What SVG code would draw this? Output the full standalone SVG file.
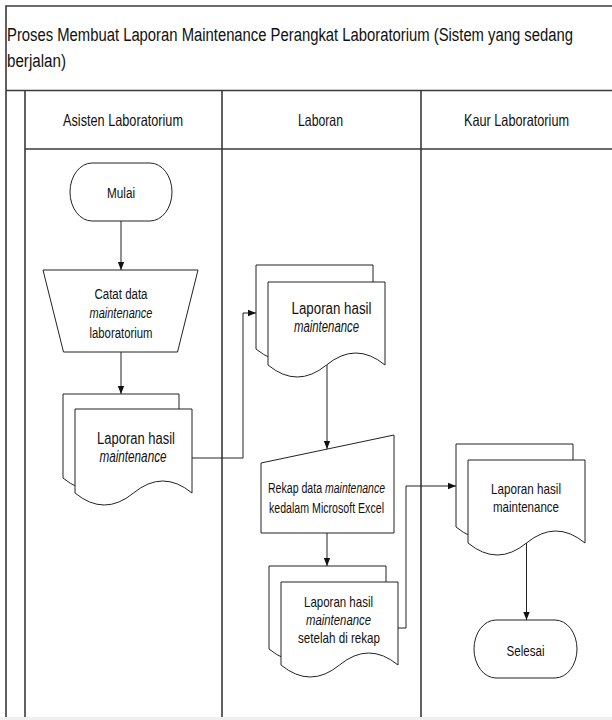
<svg xmlns="http://www.w3.org/2000/svg" width="612" height="720" viewBox="0 0 612 720">
<style>
.frame{fill:none;stroke:#3a3a3a;stroke-width:1.6}
.shape{fill:#fff;stroke:#222;stroke-width:1}
.conn{fill:none;stroke:#222;stroke-width:1}
text{font-family:"Liberation Sans Narrow","Arial Narrow","Liberation Sans",Arial,sans-serif;fill:#111}
.c{text-anchor:middle}
.i{font-style:italic}
</style>
<defs>
<marker id="arr" markerUnits="userSpaceOnUse" markerWidth="8" markerHeight="8" viewBox="0 0 8 8" refX="8" refY="4" orient="auto">
<path d="M0,0.8 L8,4 L0,7.2 Z" fill="#111"/>
</marker>
</defs>
<rect x="0" y="0" width="612" height="720" fill="#fff"/>
<rect x="0" y="717" width="612" height="3" fill="#f0f0f0"/>
<g id="pool">
<path class="frame" d="M6,717 V6 H616"/>
<path class="frame" d="M6,90.5 H616"/>
<path class="frame" d="M25,149 H616"/>
<path class="frame" d="M25,90.5 V717"/>
<path class="frame" d="M222,90.5 V717"/>
<path class="frame" d="M421,90.5 V717"/>
<text transform="translate(7,41) scale(0.78,1)" x="0" y="0" font-size="19" textLength="725.6" lengthAdjust="spacingAndGlyphs">Proses Membuat Laporan Maintenance Perangkat Laboratorium (Sistem yang sedang</text>
<text transform="translate(7,67) scale(0.8,1)" x="0" y="0" font-size="19" textLength="73.75" lengthAdjust="spacingAndGlyphs">berjalan)</text>
</g>
<g id="lane-asisten"><text class="c" x="123" y="125.5" font-size="16.5" textLength="120" lengthAdjust="spacingAndGlyphs">Asisten Laboratorium</text></g>
<g id="lane-laboran"><text class="c" x="320.5" y="125.5" font-size="16.5" textLength="45" lengthAdjust="spacingAndGlyphs">Laboran</text></g>
<g id="lane-kaur"><text class="c" x="516.5" y="125.5" font-size="16.5" textLength="105" lengthAdjust="spacingAndGlyphs">Kaur Laboratorium</text></g>

<g id="connectors">
<path class="conn" d="M121,221 V270" marker-end="url(#arr)"/>
<path class="conn" d="M121,352 V394" marker-end="url(#arr)"/>
<path class="conn" d="M192,458 H243 V313 H256" marker-end="url(#arr)"/>
<path class="conn" d="M327,365 V449" marker-end="url(#arr)"/>
<path class="conn" d="M327,533 V566" marker-end="url(#arr)"/>
<path class="conn" d="M398,628 H406 V486 H456" marker-end="url(#arr)"/>
<path class="conn" d="M526.5,543 V620" marker-end="url(#arr)"/>
</g>

<g id="mulai">
<rect class="shape" x="70" y="163" width="102" height="58" rx="22" ry="29"/>
<text class="c" x="121" y="197.5" font-size="15.5" textLength="28" lengthAdjust="spacingAndGlyphs">Mulai</text>
</g>
<g id="catat-data">
<polygon class="shape" points="43,270 198,270 177.5,352 63.5,352"/>
<text class="c" x="121" y="298.5" font-size="15.5" textLength="53" lengthAdjust="spacingAndGlyphs">Catat data</text>
<text class="c i" x="121" y="318" font-size="15.5" textLength="63" lengthAdjust="spacingAndGlyphs">maintenance</text>
<text class="c" x="121" y="337.5" font-size="15.5" textLength="63" lengthAdjust="spacingAndGlyphs">laboratorium</text>
</g>
<g id="laporan-asisten">
<path class="shape" d="M63,394 H179 V478 Q150,454 121,478 Q92,502 63,478 Z"/>
<path class="shape" d="M75,409 H192 V493 Q162.75,469 133.5,493 Q104.25,517 75,493 Z"/>
<text class="c" x="136" y="443.5" font-size="16" textLength="78" lengthAdjust="spacingAndGlyphs">Laporan hasil</text>
<text class="c i" x="133" y="461.5" font-size="16" textLength="67" lengthAdjust="spacingAndGlyphs">maintenance</text>
</g>
<g id="laporan-laboran">
<path class="shape" d="M256,265 H373 V349 Q343.75,325 314.5,349 Q285.25,373 256,349 Z"/>
<path class="shape" d="M268,282 H385 V365 Q355.75,341 326.5,365 Q297.25,389 268,365 Z"/>
<text class="c" x="331.5" y="313.5" font-size="16" textLength="80" lengthAdjust="spacingAndGlyphs">Laporan hasil</text>
<text class="c i" x="326.5" y="332" font-size="16" textLength="65" lengthAdjust="spacingAndGlyphs">maintenance</text>
</g>
<g id="rekap-data">
<polygon class="shape" points="261,463 394,435 394,533 261,533"/>
<text transform="translate(268,493) scale(0.75,1)" x="0" y="0" font-size="14" textLength="72" lengthAdjust="spacingAndGlyphs">Rekap data</text>
<text class="i" transform="translate(325,493) scale(0.75,1)" x="0" y="0" font-size="14" textLength="80" lengthAdjust="spacingAndGlyphs">maintenance</text>
<text class="c" transform="translate(326.5,513) scale(0.76,1)" x="0" y="0" font-size="14" textLength="151.3" lengthAdjust="spacingAndGlyphs">kedalam Microsoft Excel</text>
</g>
<g id="laporan-rekap">
<path class="shape" d="M269,566 H386 V649 Q356.75,625 327.5,649 Q298.25,673 269,649 Z"/>
<path class="shape" d="M281,582 H398 V665 Q368.75,641 339.5,665 Q310.25,689 281,665 Z"/>
<text class="c" x="338.5" y="607" font-size="15" textLength="69" lengthAdjust="spacingAndGlyphs">Laporan hasil</text>
<text class="c i" x="338.5" y="625" font-size="15" textLength="65" lengthAdjust="spacingAndGlyphs">maintenance</text>
<text class="c" x="339" y="642.5" font-size="15" textLength="82" lengthAdjust="spacingAndGlyphs">setelah di rekap</text>
</g>
<g id="laporan-kaur">
<path class="shape" d="M456,444 H573 V527 Q543.75,503 514.5,527 Q485.25,551 456,527 Z"/>
<path class="shape" d="M468,460 H585 V543 Q555.75,519 526.5,543 Q497.25,567 468,543 Z"/>
<text class="c" x="526" y="493.5" font-size="15" textLength="70" lengthAdjust="spacingAndGlyphs">Laporan hasil</text>
<text class="c" x="526" y="512" font-size="15" textLength="66" lengthAdjust="spacingAndGlyphs">maintenance</text>
</g>
<g id="selesai">
<rect class="shape" x="474" y="620" width="103" height="58" rx="22" ry="29"/>
<text class="c" x="525.5" y="655.5" font-size="15.5" textLength="38" lengthAdjust="spacingAndGlyphs">Selesai</text>
</g>
</svg>
